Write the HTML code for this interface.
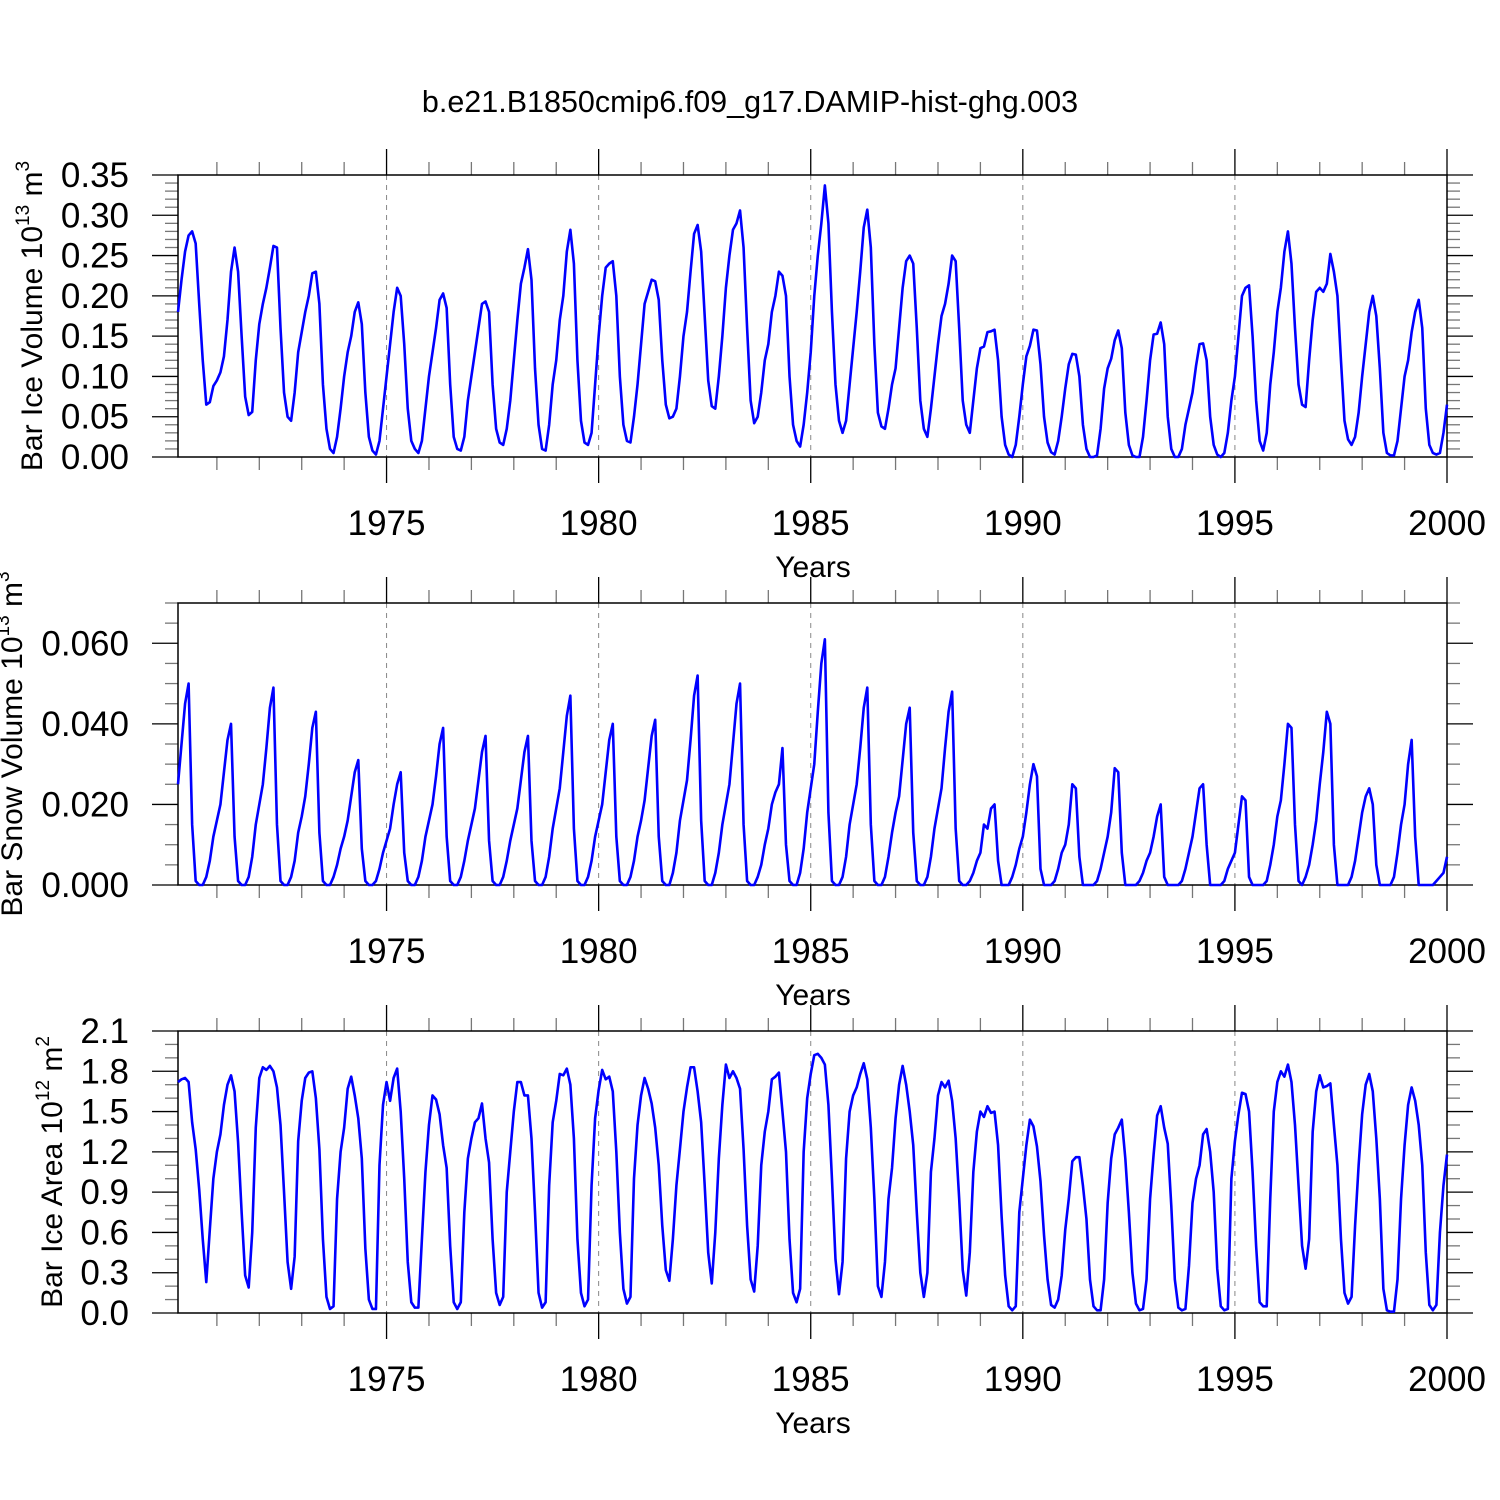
<!DOCTYPE html>
<html><head><meta charset="utf-8">
<style>
html,body{margin:0;padding:0;background:#fff;}
svg{display:block;font-family:"Liberation Sans",Arial,sans-serif;}
</style></head>
<body>
<svg id="chart" width="1500" height="1500" viewBox="0 0 1500 1500" xmlns="http://www.w3.org/2000/svg">
<rect x="0" y="0" width="1500" height="1500" fill="#fff"/>
<text x="750" y="112" text-anchor="middle" font-size="30.5" fill="#000">b.e21.B1850cmip6.f09_g17.DAMIP-hist-ghg.003</text>
</svg>
<script>
// Monthly values, one row per year 1970..1999 (Jan..Dec)
const years = [1970,1971,1972,1973,1974,1975,1976,1977,1978,1979,1980,1981,1982,1983,1984,1985,1986,1987,1988,1989,1990,1991,1992,1993,1994,1995,1996,1997,1998,1999];
const xTickLabels = [1975,1980,1985,1990,1995,2000];

const iceVolume = [
[.18,.22,.255,.275,.28,.265,.19,.12,.065,.068,.088,.095],
[.105,.125,.17,.23,.26,.23,.15,.075,.052,.056,.12,.165],
[.19,.21,.235,.262,.26,.16,.08,.05,.045,.08,.13,.155],
[.18,.2,.228,.23,.19,.09,.035,.01,.005,.025,.06,.1],
[.13,.15,.18,.192,.165,.08,.025,.008,.003,.02,.06,.1],
[.14,.18,.21,.2,.14,.06,.02,.01,.005,.02,.06,.1],
[.13,.16,.195,.203,.185,.09,.025,.01,.008,.025,.07,.1],
[.13,.16,.19,.193,.18,.09,.035,.018,.015,.035,.07,.12],
[.17,.215,.235,.258,.22,.11,.04,.01,.008,.04,.09,.12],
[.17,.2,.255,.282,.24,.12,.045,.018,.015,.03,.09,.15],
[.2,.235,.24,.243,.2,.1,.04,.02,.018,.05,.09,.14],
[.19,.205,.22,.218,.195,.12,.065,.048,.05,.06,.1,.15],
[.18,.23,.277,.288,.255,.175,.095,.063,.06,.1,.15,.21],
[.25,.282,.29,.306,.26,.16,.07,.042,.05,.08,.12,.14],
[.18,.2,.23,.225,.2,.1,.04,.02,.013,.04,.08,.13],
[.2,.25,.29,.337,.29,.18,.09,.045,.03,.045,.09,.135],
[.18,.23,.285,.307,.26,.14,.055,.038,.035,.06,.09,.11],
[.16,.21,.243,.25,.24,.16,.07,.035,.025,.06,.1,.14],
[.175,.19,.215,.25,.243,.16,.07,.04,.03,.07,.11,.135],
[.137,.155,.156,.158,.12,.05,.015,.003,.0,.015,.05,.09],
[.125,.138,.158,.157,.115,.05,.018,.006,.003,.02,.05,.085],
[.115,.128,.127,.1,.04,.01,.0,.0,.002,.035,.085,.11],
[.122,.145,.157,.135,.055,.015,.002,.0,.0,.025,.07,.12],
[.152,.153,.167,.14,.05,.01,.0,.0,.01,.04,.06,.08],
[.113,.14,.141,.12,.05,.015,.003,.0,.005,.03,.07,.1],
[.15,.2,.21,.213,.15,.07,.02,.008,.03,.09,.13,.18],
[.21,.255,.28,.24,.16,.09,.065,.062,.12,.17,.205,.21],
[.205,.215,.252,.23,.2,.12,.045,.022,.015,.025,.055,.1],
[.14,.18,.2,.175,.11,.03,.005,.002,.002,.02,.06,.1],
[.12,.155,.18,.195,.16,.06,.015,.005,.003,.005,.03,.065]
];
const snowVolume = [
[.025,.035,.045,.050,.015,.001,0,0,.002,.006,.012,.016],
[.020,.028,.036,.040,.012,.001,0,0,.002,.007,.015,.020],
[.025,.034,.044,.049,.015,.001,0,0,.002,.006,.013,.017],
[.022,.030,.039,.043,.013,.001,0,0,.002,.005,.009,.012],
[.016,.022,.028,.031,.009,.001,0,0,.001,.004,.008,.011],
[.014,.020,.025,.028,.008,.001,0,0,.002,.006,.012,.016],
[.020,.027,.035,.039,.012,.001,0,0,.002,.006,.011,.015],
[.019,.026,.033,.037,.011,.001,0,0,.002,.006,.011,.015],
[.019,.026,.033,.037,.011,.001,0,0,.002,.007,.014,.019],
[.024,.033,.042,.047,.014,.001,0,0,.002,.006,.012,.016],
[.020,.028,.036,.040,.012,.001,0,0,.002,.006,.012,.016],
[.021,.029,.037,.041,.012,.001,0,0,.003,.008,.016,.021],
[.026,.036,.047,.052,.016,.001,0,0,.003,.008,.015,.020],
[.025,.035,.045,.050,.015,.001,0,0,.002,.005,.010,.014],
[.020,.023,.025,.034,.010,.001,0,0,.003,.009,.018,.024],
[.030,.043,.055,.061,.018,.001,0,0,.002,.007,.015,.020],
[.025,.034,.044,.049,.015,.001,0,0,.002,.007,.013,.018],
[.022,.031,.040,.044,.013,.001,0,0,.002,.007,.014,.019],
[.024,.034,.043,.048,.014,.001,0,0,.001,.003,.006,.008],
[.015,.014,.019,.020,.006,0,0,0,.002,.005,.009,.012],
[.018,.025,.030,.027,.004,0,0,0,.001,.004,.008,.010],
[.015,.025,.024,.007,0,0,0,0,.001,.004,.008,.012],
[.018,.029,.028,.008,0,0,0,0,.001,.003,.006,.008],
[.012,.017,.020,.002,0,0,0,0,.001,.004,.008,.012],
[.018,.024,.025,.010,0,0,0,0,.001,.004,.006,.008],
[.015,.022,.021,.002,0,0,0,0,.001,.005,.010,.017],
[.021,.030,.040,.039,.015,.001,0,.002,.005,.010,.016,.025],
[.033,.043,.040,.010,0,0,0,0,.002,.006,.012,.018],
[.022,.024,.020,.005,0,0,0,0,.002,.008,.015,.020],
[.030,.036,.012,0,0,0,0,0,.001,.002,.003,.007]
];
const iceArea = [
[1.72,1.74,1.75,1.72,1.42,1.22,.92,.55,.23,.62,1.0,1.2],
[1.33,1.55,1.70,1.77,1.65,1.27,.75,.28,.19,.6,1.38,1.75],
[1.83,1.81,1.84,1.80,1.68,1.40,.90,.38,.18,.42,1.28,1.58],
[1.75,1.79,1.80,1.60,1.22,.55,.12,.03,.05,.85,1.2,1.38],
[1.67,1.76,1.62,1.45,1.15,.48,.1,.03,.03,1.1,1.55,1.72],
[1.58,1.75,1.82,1.50,1.00,.38,.08,.04,.04,.55,1.05,1.4],
[1.62,1.59,1.48,1.25,1.08,.50,.08,.03,.08,.75,1.15,1.3],
[1.42,1.45,1.56,1.30,1.12,.55,.15,.06,.12,.9,1.2,1.5],
[1.72,1.72,1.62,1.62,1.30,.75,.15,.04,.08,.95,1.42,1.58],
[1.78,1.77,1.82,1.70,1.30,.55,.15,.05,.10,.95,1.45,1.66],
[1.81,1.74,1.76,1.65,1.20,.60,.18,.07,.12,1.0,1.4,1.62],
[1.75,1.67,1.56,1.38,1.10,.65,.32,.24,.55,.95,1.22,1.5],
[1.68,1.83,1.83,1.65,1.42,.95,.45,.22,.6,1.15,1.55,1.85],
[1.75,1.80,1.75,1.67,1.22,.65,.25,.16,.5,1.1,1.35,1.5],
[1.74,1.76,1.79,1.50,1.20,.55,.15,.08,.18,1.2,1.6,1.78],
[1.92,1.93,1.90,1.85,1.55,1.0,.40,.14,.38,1.15,1.5,1.62],
[1.68,1.78,1.86,1.74,1.38,.85,.20,.12,.38,.85,1.08,1.45],
[1.70,1.84,1.70,1.50,1.25,.75,.30,.12,.30,1.05,1.30,1.62],
[1.72,1.68,1.73,1.58,1.30,.85,.32,.13,.45,1.05,1.35,1.50],
[1.46,1.54,1.49,1.50,1.25,.72,.28,.05,.02,.05,.75,1.0],
[1.25,1.44,1.39,1.24,.98,.58,.25,.06,.04,.1,.28,.62],
[.85,1.13,1.16,1.16,.95,.70,.25,.05,.02,.02,.25,.82],
[1.15,1.33,1.38,1.44,1.15,.75,.30,.07,.02,.03,.25,.85],
[1.18,1.47,1.54,1.38,1.26,.80,.25,.04,.02,.03,.35,.82],
[1.0,1.10,1.33,1.37,1.20,.90,.33,.05,.02,.03,1.0,1.28],
[1.48,1.64,1.63,1.50,1.05,.50,.08,.05,.05,.85,1.5,1.72],
[1.80,1.76,1.85,1.72,1.40,.95,.50,.33,.55,1.35,1.65,1.77],
[1.68,1.69,1.71,1.40,1.10,.55,.15,.07,.12,.65,1.10,1.48],
[1.70,1.78,1.65,1.30,.85,.18,.02,.01,.01,.25,.85,1.25],
[1.55,1.68,1.58,1.40,1.10,.45,.06,.02,.06,.60,.95,1.18]
];
const iceVolumeTicks = ["0.00","0.05","0.10","0.15","0.20","0.25","0.30","0.35"];
const snowVolumeTicks = ["0.000","0.020","0.040","0.060"];
const iceAreaTicks = ["0.0","0.3","0.6","0.9","1.2","1.5","1.8","2.1"];

const NS = "http://www.w3.org/2000/svg";
const svg = document.getElementById('chart');
const X0 = 178, X1 = 1447, XMIN = 1970 + 1/12, XMAX = 2000;
function xScale(t){ return X0 + (t - XMIN) / (XMAX - XMIN) * (X1 - X0); }
function mk(tag, attrs, parent){
  const e = document.createElementNS(NS, tag);
  for (const k in attrs) e.setAttribute(k, attrs[k]);
  (parent || svg).appendChild(e);
  return e;
}

function panel(cfg){
  const g = mk('g', {});
  
  
  const yScale = v => cfg.yb - (v - cfg.vmin) / (cfg.vmax - cfg.vmin) * (cfg.yb - cfg.yt);
  for (const yr of xTickLabels) {
    if (yr >= XMAX) continue;
    const gl = mk('line', {x1:xScale(yr), x2:xScale(yr), y1:cfg.yt, y2:cfg.yb, stroke:'#888', 'stroke-width':1, 'stroke-dasharray':'5,5'}, g);
    
    
  }
  for (let yr = 1971; yr <= 2000; yr++) {
    const x = xScale(yr);
    const major = yr % 5 === 0;
    const len = major ? 26 : 13;
    mk('line', {x1:x, x2:x, y1:cfg.yb, y2:cfg.yb + len, stroke: major ? '#000' : '#777', 'stroke-width':1.3}, g);
    mk('line', {x1:x, x2:x, y1:cfg.yt, y2:cfg.yt - len, stroke: major ? '#000' : '#777', 'stroke-width':1.3}, g);
  }
  for (const yr of xTickLabels) {
    const t = mk('text', {x:xScale(yr), y:cfg.yb + 78, 'text-anchor':'middle', 'font-size':35, fill:'#000'}, g);
    t.textContent = yr;
    
    
  }
  const xt = mk('text', {x:813, y:cfg.yb + 120, 'text-anchor':'middle', 'font-size':30, fill:'#000'}, g);
  xt.textContent = 'Years';
  
  
  const nMinor = Math.round((cfg.vmax - cfg.vmin) / cfg.minor);
  for (let i = 0; i <= nMinor; i++) {
    const v = cfg.vmin + i * cfg.minor;
    const y = yScale(v);
    const isMajor = Math.abs((v - cfg.vmin) / cfg.major - Math.round((v - cfg.vmin) / cfg.major)) < 1e-6;
    const len = isMajor ? 26 : 13;
    mk('line', {x1:X0 - len, x2:X0, y1:y, y2:y, stroke: isMajor ? '#000' : '#777', 'stroke-width':1.3}, g);
    mk('line', {x1:X1, x2:X1 + len, y1:y, y2:y, stroke: isMajor ? '#000' : '#777', 'stroke-width':1.3}, g);
  }
  cfg.labels.forEach((lab, i) => {
    const v = cfg.vmin + i * cfg.major;
    const t = mk('text', {x:129, y:yScale(v) + 12, 'text-anchor':'end', 'font-size':35, fill:'#000'}, g);
    t.textContent = lab;
    
    
  });
  const yt = mk('text', {x:0, y:0, 'text-anchor':'middle', 'font-size':30, fill:'#000', transform:`translate(${cfg.titleX},${(cfg.yt+cfg.yb)/2}) rotate(-90)`}, g);
  yt.innerHTML = cfg.title + ' 10<tspan dy="-13" font-size="19">' + cfg.exp + '</tspan><tspan dy="13"> m</tspan><tspan dy="-13" font-size="19">' + cfg.unitExp + '</tspan>';
  
  
  const fr = mk('rect', {x:X0, y:cfg.yt, width:X1 - X0, height:cfg.yb - cfg.yt, fill:'none', stroke:'#000', 'stroke-width':1.5}, g);
  
  
  const pts = [];
  cfg.data.forEach((row, yi) => {
    row.forEach((v, m) => {
      pts.push(xScale(years[yi] + (m + 1) / 12).toFixed(2) + ',' + yScale(v).toFixed(2));
    });
  });
  const pl = mk('polyline', {points:pts.join(' '), fill:'none', stroke:'#0000ff', 'stroke-width':2.6, 'stroke-linejoin':'round'}, g);
  
  
}

panel({name:'ice-volume-panel', yt:175, yb:457, vmin:0, vmax:0.35, major:0.05, minor:0.01, labels:iceVolumeTicks, data:iceVolume, title:'Bar Ice Volume', exp:'13', unitExp:'3', titleX:42});
panel({name:'snow-volume-panel', yt:603, yb:885, vmin:0, vmax:0.07, major:0.02, minor:0.005, labels:snowVolumeTicks, data:snowVolume, title:'Bar Snow Volume', exp:'13', unitExp:'3', titleX:22});
panel({name:'ice-area-panel', yt:1031, yb:1313, vmin:0, vmax:2.1, major:0.3, minor:0.1, labels:iceAreaTicks, data:iceArea, title:'Bar Ice Area', exp:'12', unitExp:'2', titleX:62});
</script>
</body></html>
